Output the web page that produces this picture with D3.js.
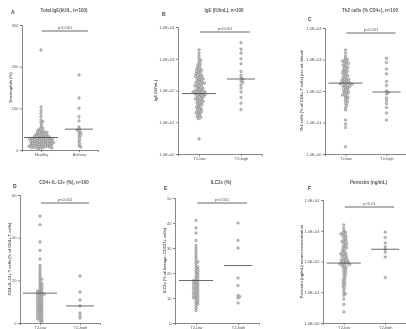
<!DOCTYPE html>
<html><head><meta charset="utf-8">
<script src="https://cdn.jsdelivr.net/npm/d3@7"></script>
<style>
html,body{margin:0;padding:0;background:#fff;}
svg{display:block;filter:blur(0.45px);font-family:"Liberation Sans",Arial,sans-serif;}
</style></head>
<body><svg id="c" width="406" height="329"></svg>
<script>
// ---------- data ----------
const catsA = ["Healthy", "Asthma"];
const catsT = ["T2-low", "T2-high"];
const titles = ["Total IgE(kU/L, n=100)", "IgE (IU/mL), n=100", "Th2 cells (% CD4+), n=100", "CD4+ IL-13+ (%), n=100", "ILC2s (%)", "Periostin (ng/mL)"];
const ylabels = ["Eosinophils (%)", "IgE (IU/mL)", "Th2 cells (% of CD4+ T cells) per mL blood", "CD4+IL-13+ T cells (% of CD4+ T cells)", "ILC2s (% of lineage- CD127+ cells)", "Periostin (ng/mL) serum concentration"];
const pLabels = ["p<0.001", "p<0.001", "p<0.001", "p<0.001", "p<0.001", "p<0.01"];
const letters = ["A", "B", "C", "D", "E", "F"];

const a1 = [240,103,95,88,80,72,68,65,60,55,52,50,48,46,45,44,43,42,41,40,39,38,37,36,35,35,34,33,32,32,31,30,30,29,29,28,28,27,27,26,26,25,25,24,24,23,23,22,22,21,21,20,20,19,19,18,18,17,17,16,16,15,15,14,14,13,13,12,12,11,11,10,10,9,9,8,8,7,7,6,6,5,5,4,3];
const a2 = [180,125,100,80,70,55,50,48,45,42,38,35,30,25,20,15,10,7];
const b1 = [1900,1500,1200,1000,900,800,700,650,600,550,500,480,450,420,400,380,360,340,320,300,290,280,260,250,240,230,220,210,200,190,180,175,170,160,150,145,140,130,125,120,115,110,105,100,98,95,92,90,88,85,82,80,78,75,72,70,68,65,62,60,58,55,52,50,48,46,44,42,40,38,36,34,32,30,28,26,25,24,22,21,20,19,18,16,15,14,13,3];
const b2 = [3200,2000,1500,1000,700,400,300,250,230,200,180,150,120,90,60,40,25];
const c1 = [2000,1600,1300,1100,1000,950,900,850,800,750,700,650,600,560,520,480,450,420,400,380,350,330,310,290,270,250,240,230,220,210,200,190,185,180,175,170,165,160,150,145,140,130,125,120,110,105,100,95,90,85,80,75,70,65,60,55,50,45,40,35,30,25,12,9,7,1.7];
const c2 = [1100,800,500,350,200,150,100,90,80,60,50,40,30,20,12];
const d1 = [50,46,38,34,30,27,26,25,24,23,22,21,20.5,20,19,18.5,18,17.5,17,16.5,16,15.5,15,15,14.5,14,14,13.5,13.5,13,13,12.5,12,12,11.5,11,11,10.5,10,10,9.5,9,9,8.5,8,8,7.5,7,7,6.5,6,6,5.5,5,5,4.5,4,4,3.5,3,3,2.5,2,2,1.5,1,0.5];
const d2 = [22,14.5,10.8,8,4.7,3.5,2.3];
const e1 = [41,38,36,33,31,30,29,28,27,26,25,24.5,24,23,22.5,22,21.5,21,20.5,20,19.5,19,18.5,18,17.5,17,17,16.5,16,16,15.5,15,15,14.5,14,14,13.5,13,13,12.5,12,12,11.5,11,11,10.5,10,10,9.5,9,8.5,8,7.5,7,6,5];
const e2 = [40,33,30,18,15,11,10.5,10,8];
const f1 = [1550,1200,1000,900,850,800,750,700,650,600,550,500,470,440,410,380,350,320,300,280,260,240,220,200,190,180,170,160,150,140,130,120,115,110,105,100,95,90,88,85,82,80,75,70,65,60,55,50,45,40,36,32,28,25,22,20,18,16,14,12,10,9,8,6,4,2.3];
const f2 = [900,600,400,300,250,200,140,30];
const centers1 = [30, 80, 178, 14, 17, 89];
const centers2 = [50, 230, 93, 8, 23, 250];
const linTicksA = [0, 100, 200, 300];
const linTicksD = [0, 20, 40, 60];
const linTicksE = [0, 10, 20, 30, 40, 50];
const logTicks = [1, 10, 100, 1000, 10000];

// ---------- layout ----------
const layout = [
  {g1:a1, g2:a2, cats:catsA, type:"lin", dom:[0,300], ticks:linTicksA, ax:22, x1:98, top:25, bot:150, ty:12, lx:11, ly:14, sy:31, ylx:12},
  {g1:b1, g2:b2, cats:catsT, type:"log", dom:[1,10000], ticks:logTicks, ax:178, x1:262, top:27, bot:154, ty:12, lx:162, ly:16, sy:32, ylx:157},
  {g1:c1, g2:c2, cats:catsT, type:"log", dom:[1,10000], ticks:logTicks, ax:325, x1:407, top:28, bot:154, ty:12, lx:308, ly:21, sy:33, ylx:303},
  {g1:d1, g2:d2, cats:catsT, type:"lin", dom:[0,60], ticks:linTicksD, ax:20, x1:100, top:195, bot:323, ty:184, lx:13, ly:188, sy:203, ylx:11},
  {g1:e1, g2:e2, cats:catsT, type:"lin", dom:[0,50], ticks:linTicksE, ax:175, x1:259, top:198, bot:323, ty:184, lx:164, ly:190, sy:203, ylx:166},
  {g1:f1, g2:f2, cats:catsT, type:"log", dom:[1,10000], ticks:logTicks, ax:323, x1:406, top:200, bot:323, ty:184, lx:308, ly:190, sy:207, ylx:303}
];

const svg = d3.select("#c");
const R = 1.25;
const col = "#6a6a6a";

function swarm(vals, y, cx) {
  const pts = vals.map(v => ({v, y: y(v)})).sort((a, b) => a.y - b.y);
  const placed = [];
  const dd = (2 * R) * (2 * R) * 0.7;
  pts.forEach(p => {
    let best = 0;
    for (let k = 0; k < 200; k++) {
      const off = (k % 2 ? 1 : -1) * Math.ceil(k / 2) * 0.6;
      const ok = placed.every(q => (q.dx - off) ** 2 + (q.y - p.y) ** 2 >= dd);
      if (ok) { best = off; break; }
    }
    p.dx = best; placed.push(p);
  });
  return pts.map(p => ({x: cx + p.dx, y: p.y}));
}

function fmtLog(v) { return "1.0E+" + String(Math.round(Math.log10(v))).padStart(2, "0"); }

layout.forEach((L, i) => {
  const g = svg.append("g");
  const x = d3.scalePoint().domain(L.cats).range([L.ax, L.x1]).padding(0.5);
  const y = (L.type === "log" ? d3.scaleLog() : d3.scaleLinear()).domain(L.dom).range([L.bot, L.top]);

  const yAx = g.append("g").attr("transform", `translate(${L.ax},0)`)
    .call(d3.axisLeft(y).tickValues(L.ticks).tickSize(2).tickPadding(1.5)
      .tickFormat(L.type === "log" ? fmtLog : d3.format("d")));
  const xAx = g.append("g").attr("transform", `translate(0,${L.bot})`)
    .call(d3.axisBottom(x).tickSize(2).tickPadding(1.5));
  [yAx, xAx].forEach(a => {
    a.selectAll("path,line").attr("stroke", col).attr("stroke-width", 0.8);
    a.selectAll("text").attr("font-size", 4).attr("fill", "#555");
  });

  // points
  [[L.g1, L.cats[0]], [L.g2, L.cats[1]]].forEach(([vals, c]) => {
    g.append("g").selectAll("circle").data(swarm(vals, y, x(c))).join("circle")
      .attr("cx", d => d.x).attr("cy", d => d.y).attr("r", R)
      .attr("fill", "#d0d0d0").attr("stroke", "#666").attr("stroke-width", 0.45);
  });
  // center lines
  [[centers1[i], L.cats[0], 17], [centers2[i], L.cats[1], 14]].forEach(([v, c, hw]) => {
    g.append("line").attr("x1", x(c) - hw).attr("x2", x(c) + hw)
      .attr("y1", y(v)).attr("y2", y(v)).attr("stroke", "#444").attr("stroke-width", 0.8);
  });

  // significance bar
  const sx0 = x(L.cats[0]) + 1, sx1 = x(L.cats[1]) + 9;
  g.append("line").attr("x1", sx0).attr("x2", sx1).attr("y1", L.sy).attr("y2", L.sy)
    .attr("stroke", "#555").attr("stroke-width", 0.9);
  g.append("text").attr("x", (sx0 + sx1) / 2).attr("y", L.sy - 2.5).attr("text-anchor", "middle")
    .attr("font-size", 4).attr("fill", "#555").text(pLabels[i]);

  // title & letter
  g.append("text").attr("x", (L.ax + L.x1) / 2 + 4).attr("y", L.ty).attr("text-anchor", "middle")
    .attr("font-size", 4.5).attr("font-weight", "bold").attr("fill", "#555").text(titles[i]);
  g.append("text").attr("x", L.lx).attr("y", L.ly).attr("font-size", 5).attr("font-weight", "bold")
    .attr("fill", "#444").text(letters[i]);
  // y label
  g.append("text").attr("transform", `translate(${L.ylx},${(L.top + L.bot) / 2}) rotate(-90)`)
    .attr("text-anchor", "middle").attr("font-size", 4).attr("font-weight", "bold").attr("fill", "#555").text(ylabels[i]);
});
</script></body></html>
